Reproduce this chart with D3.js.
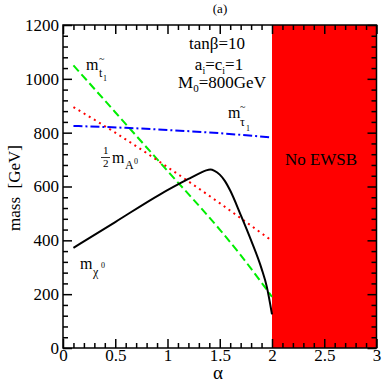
<!DOCTYPE html>
<html>
<head>
<meta charset="utf-8">
<script src="https://cdn.jsdelivr.net/npm/d3@7"></script>
<style>
  body { margin: 0; background: #fff; }
</style>
</head>
<body>
<svg width="382" height="382"></svg>
<script>
"use strict";

// Curves (alpha, mass in GeV)
var stopAlpha = [0.1, 0.5, 1.0, 1.5, 1.7, 1.9, 2.0];
var stopMass  = [1050, 876, 658, 440, 345, 243, 190];

var halfMaAlpha = [0.1, 0.5, 1.0, 1.5, 2.0];
var halfMaMass  = [895, 800, 672, 538, 398];

var stauAlpha = [0.1, 0.6, 1.0, 1.5, 2.0];
var stauMass  = [825, 818, 810, 798, 782];

var chiAlpha = [0.1, 0.5, 0.93, 1.2, 1.31, 1.37, 1.41, 1.45, 1.5, 1.55, 1.6, 1.7, 1.8, 1.9, 1.95, 2.0];
var chiMass  = [372, 468, 571, 628, 650, 660, 663, 658, 644, 620, 585, 495, 400, 295, 228, 125];

// No EWSB region
var noEwsb = [2, 3];

var xMajor = [0, 0.5, 1, 1.5, 2, 2.5, 3];
var yMajor = [0, 200, 400, 600, 800, 1000, 1200];

var svg = d3.select("svg");
var serif = "Liberation Serif, Times New Roman, serif";

var xScale = d3.scaleLinear().domain([0, 3]).range([63, 376.5]);
var yScale = d3.scaleLinear().domain([0, 1200]).range([348, 25]);

var zip = function(a, b) {
    return a.map(function(v, i) { return [v, b[i]]; });
};

// Red region
svg.append("rect")
    .attr("x", xScale(noEwsb[0]))
    .attr("y", yScale(1200))
    .attr("width", xScale(noEwsb[1]) - xScale(noEwsb[0]))
    .attr("height", yScale(0) - yScale(1200))
    .attr("fill", "#ff0000");

svg.append("text")
    .attr("x", 321)
    .attr("y", 165)
    .attr("text-anchor", "middle")
    .style("font-size", "17px")
    .text("No EWSB");

// Lines
var line = d3.line()
    .x(function(d) { return xScale(d[0]); })
    .y(function(d) { return yScale(d[1]); })
    .curve(d3.curveMonotoneX);

var series = [
    { pts: zip(stopAlpha, stopMass), color: "#00ee00", dash: "8,4" },
    { pts: zip(halfMaAlpha, halfMaMass), color: "#ff0000", dash: "2,4" },
    { pts: zip(stauAlpha, stauMass), color: "#0000ff", dash: "9,3,2,3" },
    { pts: zip(chiAlpha, chiMass), color: "#000000", dash: null }
];

series.forEach(function(s) {
    svg.append("path")
        .attr("d", line(s.pts))
        .attr("fill", "none")
        .attr("stroke", s.color)
        .attr("stroke-width", 2)
        .attr("stroke-dasharray", s.dash);
});

// Axes with inward ticks
var xMinor = d3.range(0, 3.001, 0.1).filter(function(v) { return Math.abs(v * 2 - Math.round(v * 2)) > 1e-6; });
var yMinor = d3.range(0, 1201, 40).filter(function(v) { return v % 200 !== 0; });

var addAxis = function(axis, transform, labels) {
    var g = svg.append("g")
        .attr("transform", transform)
        .call(axis);
    g.select(".domain").remove();
    g.selectAll("line").attr("stroke", "#000").attr("stroke-width", 1.5);
    g.selectAll("text").attr("fill", "#000").style("font-size", "17px");
    if (!labels) g.selectAll("text").remove();
    return g;
};

addAxis(d3.axisBottom(xScale).tickValues(xMajor).tickSize(-9).tickPadding(1)
    .tickFormat(d3.format("")), "translate(0,348)", true);
addAxis(d3.axisBottom(xScale).tickValues(xMinor).tickSize(-5), "translate(0,348)", false);
addAxis(d3.axisTop(xScale).tickValues(xMajor).tickSize(-9), "translate(0,25)", false);
addAxis(d3.axisTop(xScale).tickValues(xMinor).tickSize(-5), "translate(0,25)", false);

addAxis(d3.axisLeft(yScale).tickValues(yMajor).tickSize(-9).tickPadding(4)
    .tickFormat(d3.format("d")), "translate(63,0)", true);
addAxis(d3.axisLeft(yScale).tickValues(yMinor).tickSize(-5), "translate(63,0)", false);
addAxis(d3.axisRight(yScale).tickValues(yMajor).tickSize(-9), "translate(376.5,0)", false);
addAxis(d3.axisRight(yScale).tickValues(yMinor).tickSize(-5), "translate(376.5,0)", false);

// Frame
svg.append("rect")
    .attr("x", 63)
    .attr("y", 25)
    .attr("width", 376.5 - 63)
    .attr("height", 348 - 25)
    .attr("fill", "none")
    .attr("stroke", "#000")
    .attr("stroke-width", 1.5);

// Titles
svg.append("text")
    .attr("x", 220)
    .attr("y", 13)
    .attr("text-anchor", "middle")
    .style("font-size", "13px")
    .text("(a)");

svg.append("text")
    .attr("x", 218)
    .attr("y", 379)
    .attr("text-anchor", "middle")
    .style("font-size", "19px")
    .text("α");

svg.append("text")
    .attr("transform", "translate(20,188) rotate(-90)")
    .attr("text-anchor", "middle")
    .style("font-size", "17px")
    .style("white-space", "pre")
    .text("mass  [GeV]");

// Parameters
var params = svg.append("g").style("font-size", "17px");
params.append("text").attr("x", 217).attr("y", 49).attr("text-anchor", "middle").text("tanβ=10");

var ac = params.append("text").attr("x", 219).attr("y", 70).attr("text-anchor", "middle");
ac.append("tspan").text("a");
ac.append("tspan").attr("dy", 4).style("font-size", "10px").text("i");
ac.append("tspan").attr("dy", -4).text("=c");
ac.append("tspan").attr("dy", 4).style("font-size", "10px").text("i");
ac.append("tspan").attr("dy", -4).text("=1");

var m0 = params.append("text").attr("x", 222).attr("y", 88).attr("text-anchor", "middle");
m0.append("tspan").text("M");
m0.append("tspan").attr("dy", 4).style("font-size", "11px").text("0");
m0.append("tspan").attr("dy", -4).text("=800GeV");

// Curve labels
var label = function(x, y) {
    return svg.append("g").attr("transform", "translate(" + x + "," + y + ")").style("font-size", "16px");
};

// m stop
var ls = label(86, 70);
ls.append("text").text("m");
ls.append("text").attr("x", 13).attr("y", -8).style("font-size", "10px").text("~");
ls.append("text").attr("x", 13).attr("y", 7).style("font-size", "12px").text("t");
ls.append("text").attr("x", 17).attr("y", 11).style("font-size", "8px").text("1");

// m stau
var lt = label(228, 118);
lt.append("text").text("m");
lt.append("text").attr("x", 12).attr("y", -8).style("font-size", "10px").text("~");
lt.append("text").attr("x", 12).attr("y", 8).style("font-size", "12px").text("τ");
lt.append("text").attr("x", 18).attr("y", 13).style("font-size", "8px").text("1");

// 1/2 mA0
var la = label(100, 163);
la.append("text").attr("x", 3).attr("y", -9).style("font-size", "11px").text("1");
la.append("line").attr("x1", 1).attr("x2", 10).attr("y1", -5.5).attr("y2", -5.5).attr("stroke", "#000").attr("stroke-width", 0.8);
la.append("text").attr("x", 3).attr("y", 4).style("font-size", "11px").text("2");
la.append("text").attr("x", 12).text("m");
la.append("text").attr("x", 25).attr("y", 6).style("font-size", "12px").text("A");
la.append("text").attr("x", 34).attr("y", 1).style("font-size", "8px").text("0");

// m chi0
var lc = label(80, 269);
lc.append("text").text("m");
lc.append("text").attr("x", 13).attr("y", 7).style("font-size", "12px").text("χ");
lc.append("text").attr("x", 21).attr("y", -1).style("font-size", "8px").text("0");

// Serif everywhere, like the original plot
svg.selectAll("text").style("font-family", serif).attr("font-family", serif);
</script>
</body>
</html>
